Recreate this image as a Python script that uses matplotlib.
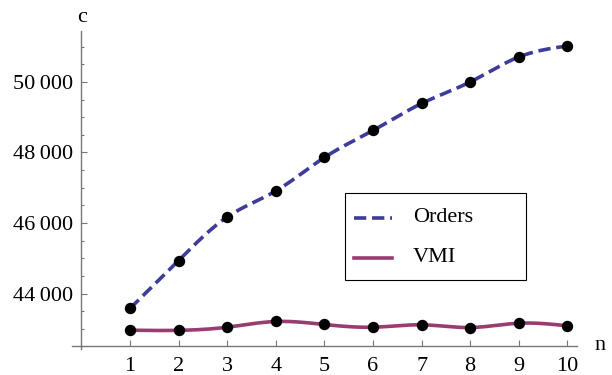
import numpy as np
import matplotlib
matplotlib.use("Agg")
import matplotlib.pyplot as plt
from matplotlib.ticker import FuncFormatter, MultipleLocator
from matplotlib.lines import Line2D
from matplotlib.patches import Rectangle

n = [1, 2, 3, 4, 5, 6, 7, 8, 9, 10]
orders = [43575, 44936, 46170, 46908, 47858, 48624, 49390, 50000, 50709, 51021]
vmi = [42959, 42955, 43044, 43206, 43121, 43044, 43112, 43035, 43157, 43084]
yticks = [44000, 46000, 48000, 50000]
series_names = ["Orders", "VMI"]


def spline(x, y, num=300):
    x = np.asarray(x, float)
    y = np.asarray(y, float)
    k = len(x)
    h = np.diff(x)
    A = np.zeros((k, k))
    b = np.zeros(k)
    A[0, 0] = A[-1, -1] = 1
    for i in range(1, k - 1):
        A[i, i - 1] = h[i - 1]
        A[i, i] = 2 * (h[i - 1] + h[i])
        A[i, i + 1] = h[i]
        b[i] = 3 * ((y[i + 1] - y[i]) / h[i] - (y[i] - y[i - 1]) / h[i - 1])
    c = np.linalg.solve(A, b)
    xs = np.linspace(x[0], x[-1], num)
    idx = np.clip(np.searchsorted(x, xs) - 1, 0, k - 2)
    dx = xs - x[idx]
    bb = (y[idx + 1] - y[idx]) / h[idx] - h[idx] * (2 * c[idx] + c[idx + 1]) / 3
    d = (c[idx + 1] - c[idx]) / (3 * h[idx])
    ys = y[idx] + bb * dx + c[idx] * dx ** 2 + d * dx ** 3
    return xs, ys


plt.rcParams['font.family'] = ['Liberation Serif', 'DejaVu Serif']
W, H = 612, 375
fig = plt.figure(figsize=(W / 100, H / 100), dpi=100)
xl, xr = -0.195, 10.2
yb, yt = 42440, 51440
px_left, px_right = 71.9, 577.1
py_top, py_bot = 31.2, 348.5
ax = fig.add_axes([px_left / W, (H - py_bot) / H, (px_right - px_left) / W, (py_bot - py_top) / H])
ax.set_xlim(xl, xr)
ax.set_ylim(yb, yt)

c_orders = '#3d3d99'
c_vmi = '#993d71'
colors = [c_orders, c_vmi]
dash = (3.4, 1.6)

xs, ys = spline(n, orders)
ax.plot(xs, ys, color=c_orders, lw=2.6, dashes=dash, zorder=3)
xs, ys = spline(n, vmi)
ax.plot(xs, ys, color=c_vmi, lw=2.6, zorder=3)
ax.plot(n, orders, 'o', color='black', ms=7.2, zorder=4, clip_on=False)
ax.plot(n, vmi, 'o', color='black', ms=7.2, zorder=4, clip_on=False)

for s in ['top', 'right']:
    ax.spines[s].set_visible(False)
ax.spines['left'].set_position(('data', 0))
ax.spines['bottom'].set_position(('data', 42500))
ax.spines['left'].set_bounds(yb, yt)
ax.spines['bottom'].set_bounds(xl, xr)
for s in ['left', 'bottom']:
    ax.spines[s].set_color('#777777')
    ax.spines[s].set_linewidth(1.0)

ax.set_xticks(n)
ax.set_xticklabels([str(v) for v in n])
ax.set_yticks(yticks)
ax.yaxis.set_minor_locator(MultipleLocator(500))
ax.yaxis.set_major_formatter(FuncFormatter(lambda v, p: f"{int(v):,}".replace(",", "\u2009")))
ax.tick_params(axis='both', which='major', direction='in', length=4.5, width=0.8, color='#777777',
               labelsize=16, labelcolor='black')
ax.tick_params(axis='x', which='major', pad=8)
ax.tick_params(axis='y', which='major', pad=6)
ax.tick_params(axis='y', which='minor', direction='in', length=2.5, width=0.8, color='#777777')

fig.text(82 / W, 1 - 18 / H, 'c', fontsize=16, ha='center', va='center')
fig.text(600 / W, 1 - 345 / H, 'n', fontsize=16, ha='center', va='center')

# legend drawn manually (figure pixel coordinates)
def fx(px):
    return px / W


def fy(py):
    return 1 - py / H


fig.patches.append(Rectangle((fx(345), fy(280)), fx(526) - fx(345), fy(192.7) - fy(280),
                             transform=fig.transFigure, fill=True, facecolor='white',
                             edgecolor='black', lw=0.8, zorder=5))
rows = [218, 258]
for name, col, ry in zip(series_names, colors, rows):
    kw = dict(dashes=dash) if col == c_orders else {}
    fig.lines.append(Line2D([fx(354), fx(392)], [fy(ry), fy(ry)], transform=fig.transFigure,
                            color=col, lw=2.6, zorder=6, **kw))
    fig.text(fx(413), fy(ry), name, fontsize=16, ha='left', va='center', zorder=7)

fig.savefig('out.png', dpi=100)
